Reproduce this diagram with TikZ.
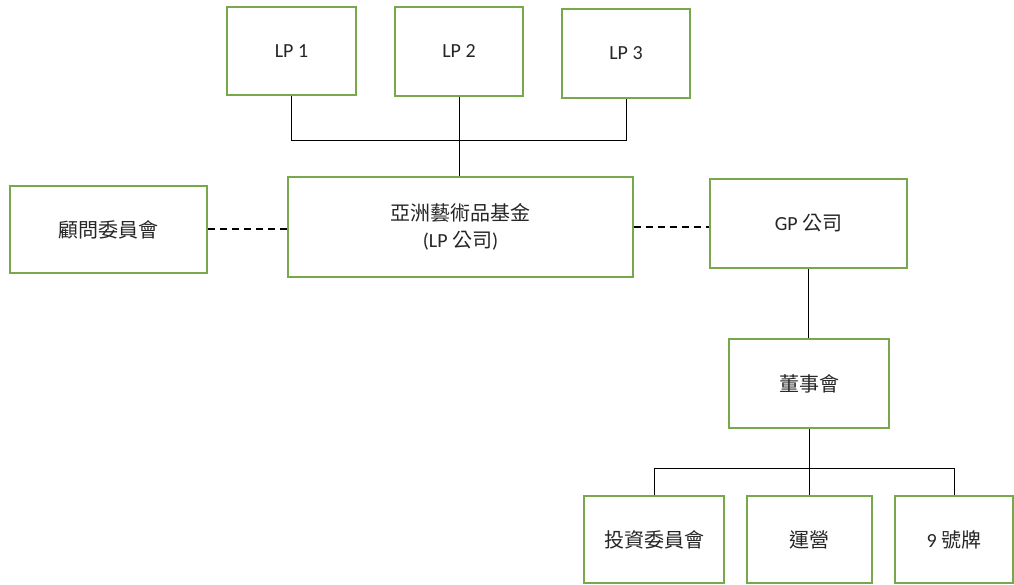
\documentclass[tikz,border=0pt]{standalone}
\usepackage{fontspec}
\setmainfont{Carlito}
\newfontfamily\cjk{Noto Sans CJK TC}
\definecolor{boxgreen}{HTML}{77A84B}
\definecolor{txt}{HTML}{262626}
\begin{document}
\begin{tikzpicture}[x=1pt,y=-1pt,
  box/.style={draw=boxgreen,line width=2pt,fill=white,inner sep=0pt,align=center,
    text=txt,font=\fontsize{20}{27}\selectfont},
  link/.style={draw=black,line width=1pt},
  dlink/.style={draw=black,line width=2pt,dash pattern=on 7pt off 5pt}]
\useasboundingbox (0,0) rectangle (1014,585);
\node[box,minimum width=129pt,minimum height=88pt] (lp1) at (291.5,51) {LP 1};
\node[box,minimum width=128pt,minimum height=89pt] (lp2) at (459,51.5) {LP 2};
\node[box,minimum width=128pt,minimum height=89pt] (lp3) at (626,53.5) {LP 3};
\node[box,minimum width=345pt,minimum height=100pt] (fund) at (460.5,227) {{\cjk 亞洲藝術品基金}\\({LP} {\cjk 公司})};
\node[box,minimum width=197pt,minimum height=87pt] (adv) at (108.5,229.5) {\cjk 顧問委員會};
\node[box,minimum width=197pt,minimum height=89pt] (gp) at (808.5,223.5) {GP {\cjk 公司}};
\node[box,minimum width=160pt,minimum height=89pt] (board) at (809,383.5) {\cjk 董事會};
\node[box,minimum width=140pt,minimum height=87pt] (inv) at (654,539.5) {\cjk 投資委員會};
\node[box,minimum width=125pt,minimum height=87pt] (ops) at (809.5,539.5) {\cjk 運營};
\node[box,minimum width=118pt,minimum height=87pt] (nine) at (954,539.5) {9 {\cjk 號牌}};
\coordinate (bus) at (0,141);
\coordinate (bus2) at (0,468);
\draw[link] (lp1.south) -- (lp1.south |- bus) -- (lp3.south |- bus) -- (lp3.south);
\draw[link] (lp2.south) -- (lp2.south |- fund.north);
\draw[dlink] (adv.east) -- (adv.east -| fund.west);
\draw[dlink] (fund.east) -- (fund.east -| gp.west);
\draw[link] (gp.south) -- (gp.south |- board.north);
\draw[link] (board.south) -- (board.south |- ops.north);
\draw[link] (inv.north) -- (inv.north |- bus2) -- (nine.north |- bus2) -- (nine.north);
\end{tikzpicture}
\end{document}
